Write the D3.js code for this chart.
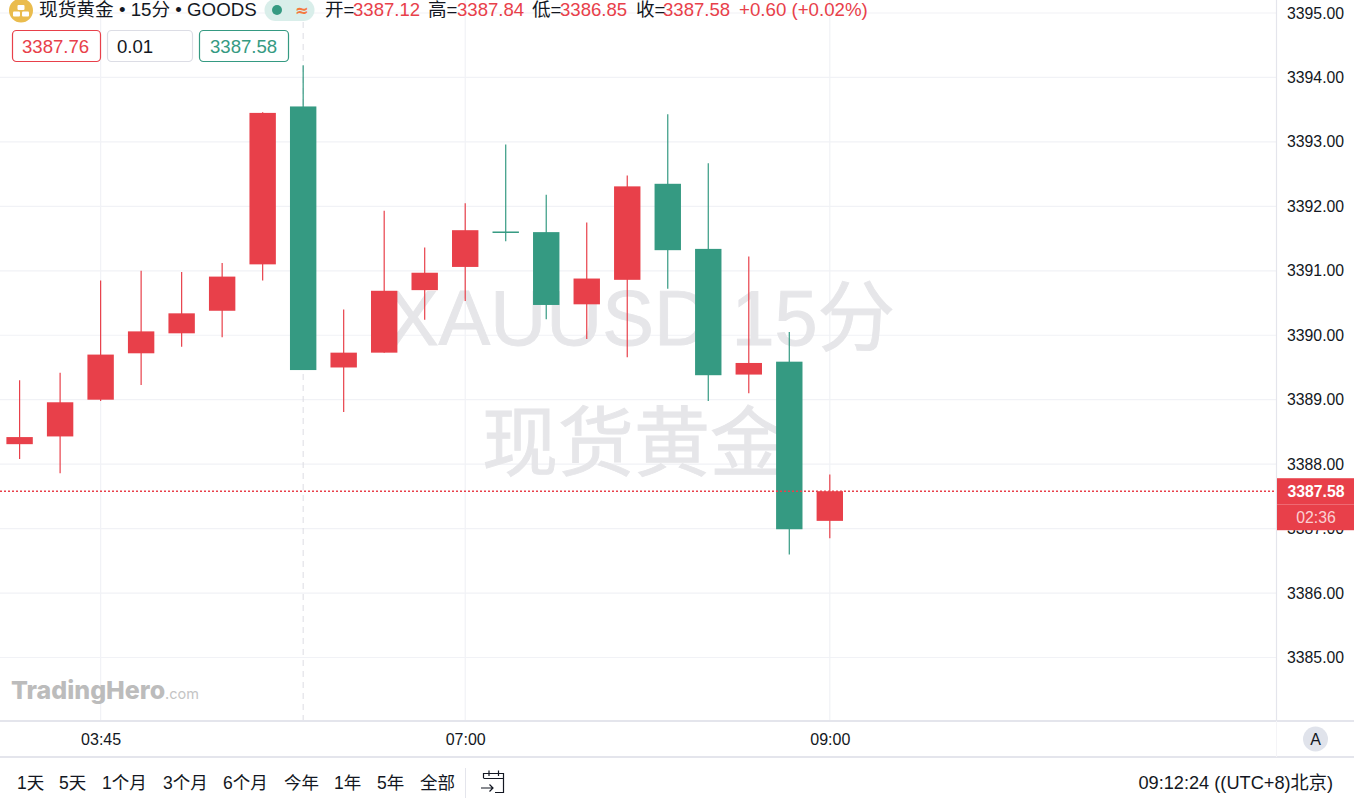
<!DOCTYPE html>
<html>
<head>
<meta charset="utf-8">
<script src="https://cdn.jsdelivr.net/npm/d3@7"></script>
<style>
  html, body { margin: 0; padding: 0; background: #fff; overflow: hidden; }
  text { font-family: "Liberation Sans", "Noto Sans CJK SC", sans-serif; }
</style>
</head>
<body>
<div id="chart"></div>
<script>
// one entry per 15 min bar, the bars sit on an index axis like the original chart
const opens  = [3388.31,3388.43,3389.00,3389.72,3390.03,3390.38,3391.10,3393.55,3389.50,3389.73,3390.70,
                3391.06,3391.61,3391.60,3390.48,3390.86,3392.35,3391.34,3389.39,3389.59,3387.12];
const highs  = [3389.30,3389.42,3390.85,3391.00,3390.98,3391.12,3393.46,3394.19,3390.40,3391.93,3391.36,
                3392.05,3392.96,3392.18,3391.75,3392.48,3393.43,3392.67,3391.22,3390.05,3387.84];
const lows   = [3388.08,3387.86,3388.98,3389.23,3389.82,3389.97,3390.85,3389.46,3388.81,3389.73,3390.24,
                3390.53,3391.46,3390.25,3389.94,3389.66,3390.72,3388.98,3389.10,3386.60,3386.85];
const closes = [3388.42,3388.96,3389.70,3390.06,3390.34,3390.91,3393.45,3389.46,3389.73,3390.69,3390.97,
                3391.63,3391.59,3390.47,3390.88,3392.31,3391.32,3389.38,3389.57,3386.99,3387.58];

const priceTicks = [3395,3394,3393,3392,3391,3390,3389,3388,3387,3386,3385];
const timeTickBars = [2,11,20];
const timeTickLabels = ['03:45','07:00','09:00'];
const lastPrice = 3387.58;
const crosshairBar = 7;

const legendLabels = ['开=','高=','低=','收='];
const legendValues = ['3387.12','3387.84','3386.85','3387.58'];
const rangeButtons = ['1天','5天','1个月','3个月','6个月','今年','1年','5年','全部'];

const red = '#e8404a', green = '#359a82', gridColor = '#f1f2f6', lineColor = '#e4e5ec';
const width = 1354, height = 801, plotRight = 1276, plotBottom = 721;

const svg = d3.select('#chart').append('svg')
    .attr('width', width).attr('height', height)
    .style('display', 'block');

const x = d3.scaleLinear().domain([0, opens.length - 1]).range([19.6, 829.8]);
const y = d3.scaleLinear().domain([3385, 3395]).range([657.5, 13]);

// grid
svg.append('g').selectAll('line').data(priceTicks).join('line')
    .attr('x1', 0).attr('x2', plotRight)
    .attr('y1', d => y(d)).attr('y2', d => y(d))
    .attr('stroke', gridColor).attr('stroke-width', 1.2);
svg.append('g').selectAll('line').data(timeTickBars).join('line')
    .attr('x1', d => x(d)).attr('x2', d => x(d))
    .attr('y1', 0).attr('y2', plotBottom)
    .attr('stroke', gridColor).attr('stroke-width', 1.2);

// watermark
const mark = svg.append('g').attr('fill', '#e6e6e9').attr('stroke', '#e6e6e9').attr('stroke-width', 0.9)
    .attr('text-anchor', 'middle').attr('font-size', 77.5);
mark.append('text').attr('x', 641).attr('y', 345).text('XAUUSD 15分');
mark.append('text').attr('x', 634).attr('y', 470).attr('font-size', 76).text('现货黄金');

// crosshair
svg.append('line')
    .attr('x1', x(crosshairBar)).attr('x2', x(crosshairBar))
    .attr('y1', 0).attr('y2', plotBottom)
    .attr('stroke', '#dcdde3').attr('stroke-width', 1)
    .attr('stroke-dasharray', '6,5');

// candles
const bars = opens.map((o, i) => ({ i, o, h: highs[i], l: lows[i], c: closes[i] }));
const candle = svg.append('g').selectAll('g').data(bars).join('g')
    .attr('fill', d => d.c >= d.o ? red : green)
    .attr('stroke', d => d.c >= d.o ? red : green);
candle.append('line')
    .attr('x1', d => x(d.i)).attr('x2', d => x(d.i))
    .attr('y1', d => y(d.h)).attr('y2', d => y(d.l))
    .attr('stroke-width', 1.2);
candle.append('rect')
    .attr('x', d => x(d.i) - 13.2).attr('width', 26.4)
    .attr('y', d => y(Math.max(d.o, d.c)))
    .attr('height', d => Math.max(1.5, Math.abs(y(d.o) - y(d.c))))
    .attr('stroke', 'none');

// last price line
svg.append('line')
    .attr('x1', 0).attr('x2', plotRight)
    .attr('y1', y(lastPrice)).attr('y2', y(lastPrice))
    .attr('stroke', red).attr('stroke-width', 1.4)
    .attr('stroke-dasharray', '2,2');

// axes
const yAxis = svg.append('g').attr('transform', `translate(${plotRight},0)`)
    .call(d3.axisRight(y).tickValues(priceTicks).tickSize(0).tickPadding(11).tickFormat(d3.format('.2f')));
yAxis.select('.domain').attr('d', `M0.5,0V${plotBottom}`).attr('stroke', lineColor).attr('stroke-width', 1.2);
yAxis.selectAll('text').attr('font-size', 15.8).attr('fill', '#131722')
    .style('font-family', '"Liberation Sans", sans-serif');

const xAxis = svg.append('g').attr('transform', `translate(0,${plotBottom})`)
    .call(d3.axisBottom(x).tickValues(timeTickBars).tickSize(0).tickPadding(13)
      .tickFormat((d, i) => timeTickLabels[i]));
xAxis.select('.domain').attr('d', `M0,0H${width}`).attr('stroke', lineColor).attr('stroke-width', 2);
xAxis.selectAll('text').attr('font-size', 16).attr('fill', '#131722')
    .style('font-family', '"Liberation Sans", sans-serif');

svg.append('line').attr('x1', 0).attr('x2', width).attr('y1', 757).attr('y2', 757)
    .attr('stroke', lineColor).attr('stroke-width', 2);
svg.append('line').attr('x1', plotRight + 0.5).attr('x2', plotRight + 0.5).attr('y1', plotBottom).attr('y2', 757)
    .attr('stroke', '#f4f4f7');

// price tag
svg.append('rect').attr('x', 1277).attr('y', y(lastPrice) - 13).attr('width', 77).attr('height', 52).attr('fill', red);
svg.append('line').attr('x1', 1277).attr('x2', width).attr('y1', 504.5).attr('y2', 504.5)
    .attr('stroke', '#ee6a73');
svg.append('text').attr('x', 1316).attr('y', 497).attr('text-anchor', 'middle')
    .attr('font-size', 15.8).attr('font-weight', 700).attr('fill', '#fff').text(d3.format('.2f')(lastPrice));
svg.append('text').attr('x', 1316).attr('y', 523).attr('text-anchor', 'middle')
    .attr('font-size', 15.8).attr('fill', '#fbd0d3').text('02:36');

// logo + title
svg.append('circle').attr('cx', 21).attr('cy', 10.5).attr('r', 12).attr('fill', '#eabc4e');
const goldBars = svg.append('g').attr('fill', '#fff');
goldBars.append('rect').attr('x', 17.5).attr('y', 5).attr('width', 7).attr('height', 5).attr('rx', 1);
goldBars.append('rect').attr('x', 13).attr('y', 11.5).attr('width', 7).attr('height', 5).attr('rx', 1);
goldBars.append('rect').attr('x', 22).attr('y', 11.5).attr('width', 7).attr('height', 5).attr('rx', 1);
svg.append('text').attr('x', 39).attr('y', 16).attr('font-size', 18.7).attr('fill', '#131722').text('现货黄金 • 15分 • GOODS');

// market status pill
svg.append('rect').attr('x', 264.5).attr('y', -1).attr('width', 50).attr('height', 22).attr('rx', 11).attr('fill', '#d9eeea');
svg.append('circle').attr('cx', 277).attr('cy', 10).attr('r', 5).attr('fill', green);
svg.append('text').attr('x', 302).attr('y', 16).attr('text-anchor', 'middle').attr('font-size', 16.5).attr('font-weight', 700)
    .attr('fill', '#f4793f').style('font-family', 'DejaVu Sans').text('≈');

// OHLC legend
const legendLabelX = [325, 428, 532, 636];
const legendValueX = [353, 457, 560, 663];
legendLabels.forEach((s, i) => {
  svg.append('text').attr('x', legendLabelX[i]).attr('y', 16).attr('font-size', 18.6).attr('fill', '#131722').text(s);
  svg.append('text').attr('x', legendValueX[i]).attr('y', 16).attr('font-size', 18.6).attr('fill', red).text(legendValues[i]);
});
svg.append('text').attr('x', 739).attr('y', 16).attr('font-size', 18.7).attr('fill', red).text('+0.60 (+0.02%)');

// order boxes
const boxes = [
  { x: 12, w: 89, c: red, label: '3387.76', tx: 22, tc: red },
  { x: 107, w: 86, c: '#dcdde5', label: '0.01', tx: 117, tc: '#131722' },
  { x: 199, w: 90, c: green, label: '3387.58', tx: 210, tc: green }
];
boxes.forEach(b => {
  svg.append('rect').attr('x', b.x + 0.5).attr('y', 30.5).attr('width', b.w - 1).attr('height', 31).attr('rx', 4)
      .attr('fill', '#fff').attr('stroke', b.c).attr('stroke-width', 1.2);
  svg.append('text').attr('x', b.tx).attr('y', 53).attr('font-size', 18.6).attr('fill', b.tc).text(b.label);
});

// site logo
const logo = svg.append('g').attr('fill', '#bcbcbc');
logo.append('text').attr('x', 11).attr('y', 699).attr('font-size', 25).attr('font-weight', 800)
    .style('font-family', 'Inter').text('TradingHero');
logo.append('text').attr('x', 165).attr('y', 699).attr('font-size', 14.5).attr('fill', '#c4c4c4')
    .style('font-family', 'Inter').text('.com');

// auto button
svg.append('circle').attr('cx', 1315.5).attr('cy', 739).attr('r', 12.5).attr('fill', '#e0e3eb');
svg.append('text').attr('x', 1315.5).attr('y', 745).attr('text-anchor', 'middle').attr('font-size', 16).attr('fill', '#131722').text('A');

// footer
const rangeX = [17, 59, 102, 163, 223, 284, 334, 377, 420];
svg.append('g').selectAll('text').data(rangeButtons).join('text')
    .attr('x', (d, i) => rangeX[i]).attr('y', 789)
    .attr('font-size', 17.5).attr('fill', '#131722').text(d => d);
svg.append('line').attr('x1', 465.5).attr('x2', 465.5).attr('y1', 768).attr('y2', 798).attr('stroke', lineColor);
svg.append('path')
    .attr('d', 'M483.5,778V773.5H503.5V792.5H495M483.5,778.5H503.5M489,770.5V776M498.5,770.5V776M481,788H493M489.5,784.5L493,788L489.5,791.5')
    .attr('fill', 'none').attr('stroke', '#131722').attr('stroke-width', 1.2);
svg.append('text').attr('x', 1333).attr('y', 789).attr('text-anchor', 'end')
    .attr('font-size', 18.2).attr('fill', '#131722').text('09:12:24 ((UTC+8)北京)');
</script>
</body>
</html>
